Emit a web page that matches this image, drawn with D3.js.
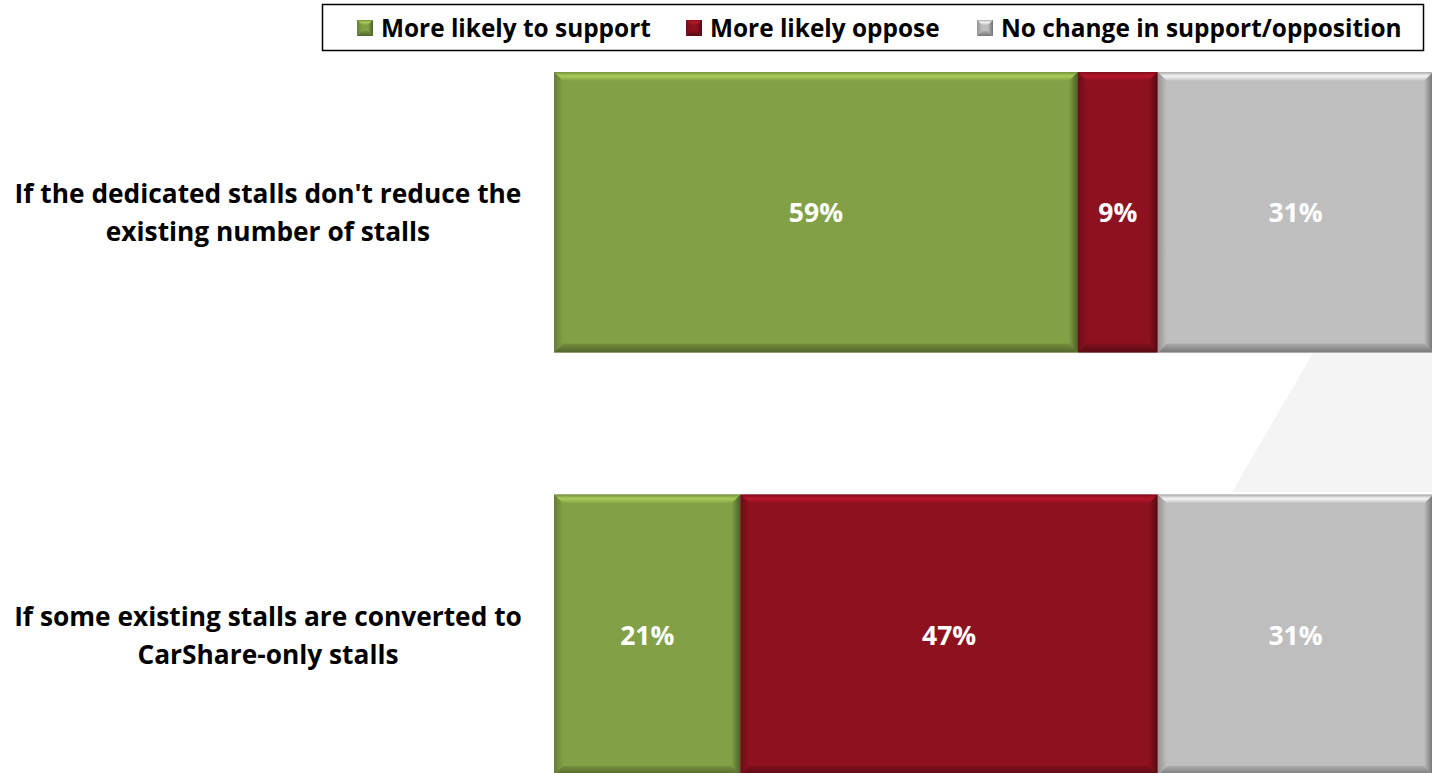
<!DOCTYPE html>
<html>
<head>
<meta charset="utf-8">
<script src="https://cdn.jsdelivr.net/npm/d3@7"></script>
<style>
  html, body { margin: 0; padding: 0; background: #ffffff; }
  svg { display: block; }
  text { font-family: "Open Sans", Lato, sans-serif; font-weight: 700; }
</style>
</head>
<body>
<svg id="chart" width="1432" height="773"></svg>
<script>
// Survey responses, percent of respondents
const categories = [
  ["If the dedicated stalls don't reduce the", "existing number of stalls"],
  ["If some existing stalls are converted to", "CarShare-only stalls"]
];
const seriesNames = ["More likely to support", "More likely oppose", "No change in support/opposition"];
const support = [59, 21];
const oppose = [9, 47];
const noChange = [31, 31];
const colors = ["#82a046", "#8e1120", "#bebebe"];

const W = 1432, H = 773;
const svg = d3.select("#chart");
const defs = svg.append("defs");

// faint backdrop wedge behind the plot
svg.append("polygon")
  .attr("points", [[1313, 353], [1432, 353], [1432, 492], [1232, 492]].map(p => p.join(",")).join(" "))
  .attr("fill", "#f4f4f4");

const rows = categories.map((c, i) => ({
  label: c,
  values: [support[i], oppose[i], noChange[i]]
}));

const x = d3.scaleLinear().domain([0, 100]).range([554, 1442]);
const y = d3.scaleBand().domain(d3.range(rows.length)).range([72, 495 + 280]).paddingInner(142 / 422);

function shade(c, k) { return d3.color(c).darker(k).formatHex(); }
function tint(c, k) { return d3.color(c).brighter(k).formatHex(); }

// gradients for the bevel faces
colors.forEach((c, i) => {
  const gTop = defs.append("linearGradient").attr("id", "top" + i).attr("x1", 0).attr("y1", 0).attr("x2", 0).attr("y2", 1);
  gTop.append("stop").attr("offset", 0).attr("stop-color", shade(c, 0.3));
  gTop.append("stop").attr("offset", 0.45).attr("stop-color", tint(c, 0.7));
  gTop.append("stop").attr("offset", 1).attr("stop-color", c);
  const gBot = defs.append("linearGradient").attr("id", "bot" + i).attr("x1", 0).attr("y1", 0).attr("x2", 0).attr("y2", 1);
  gBot.append("stop").attr("offset", 0).attr("stop-color", shade(c, 0.3));
  gBot.append("stop").attr("offset", 1).attr("stop-color", shade(c, 1.3));
  const gL = defs.append("linearGradient").attr("id", "left" + i).attr("x1", 0).attr("y1", 0).attr("x2", 1).attr("y2", 0);
  gL.append("stop").attr("offset", 0).attr("stop-color", shade(c, 0.7));
  gL.append("stop").attr("offset", 1).attr("stop-color", c);
  const gR = defs.append("linearGradient").attr("id", "right" + i).attr("x1", 0).attr("y1", 0).attr("x2", 1).attr("y2", 0);
  gR.append("stop").attr("offset", 0).attr("stop-color", c);
  gR.append("stop").attr("offset", 1).attr("stop-color", shade(c, 1.5));
});

function bevelRect(g, x0, y0, w, h, i, b) {
  g.append("rect").attr("x", x0).attr("y", y0).attr("width", w).attr("height", h).attr("fill", colors[i]);
  const pts = a => a.map(p => p.join(",")).join(" ");
  g.append("polygon").attr("points", pts([[x0, y0], [x0 + w, y0], [x0 + w - b, y0 + b], [x0 + b, y0 + b]])).attr("fill", `url(#top${i})`);
  g.append("polygon").attr("points", pts([[x0, y0 + h], [x0 + b, y0 + h - b], [x0 + w - b, y0 + h - b], [x0 + w, y0 + h]])).attr("fill", `url(#bot${i})`);
  g.append("polygon").attr("points", pts([[x0, y0], [x0 + b, y0 + b], [x0 + b, y0 + h - b], [x0, y0 + h]])).attr("fill", `url(#left${i})`);
  g.append("polygon").attr("points", pts([[x0 + w, y0], [x0 + w, y0 + h], [x0 + w - b, y0 + h - b], [x0 + w - b, y0 + b]])).attr("fill", `url(#right${i})`);
}

const barG = svg.append("g");
rows.forEach((r, ri) => {
  let acc = 0;
  const g = barG.append("g");
  const cy = y(ri) + y.bandwidth() / 2;
  r.values.forEach((v, si) => {
    const x0 = x(acc), x1 = x(acc + v);
    acc += v;
    bevelRect(g, x0, y(ri), x1 - x0, y.bandwidth(), si, 9);
    g.append("text")
      .attr("x", (x0 + x1) / 2)
      .attr("y", cy + 1)
      .attr("dy", "0.35em")
      .attr("text-anchor", "middle")
      .attr("fill", "#ffffff")
      .attr("font-size", 26.5)
      .text(v + "%");
  });
  // category label, two centred lines
  r.label.forEach((line, li) => {
    svg.append("text")
      .attr("x", 268)
      .attr("y", cy - 9 + li * 38)
      .attr("text-anchor", "middle")
      .attr("fill", "#000000")
      .attr("font-size", 26.3)
      .text(line);
  });
});

// legend
const legend = svg.append("g");
legend.append("rect").attr("x", 322.5).attr("y", 4.5).attr("width", 1101).attr("height", 46)
  .attr("fill", "#ffffff").attr("stroke", "#000000").attr("stroke-width", 1.5);
const legendX = [357, 686, 977];
seriesNames.forEach((name, i) => {
  const g = legend.append("g").attr("transform", `translate(${legendX[i]},20)`);
  bevelRect(g, 0, 0, 16, 16, i, 5);
  g.append("text").attr("x", 24).attr("y", 8).attr("dy", "0.35em")
    .attr("font-size", 24.4).attr("fill", "#000").text(name);
});
</script>
</body>
</html>
